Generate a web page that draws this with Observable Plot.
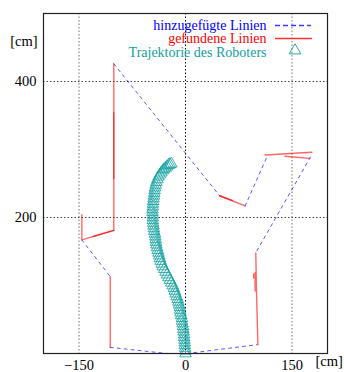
<!DOCTYPE html>
<html><head><meta charset="utf-8">
<script src="https://cdn.jsdelivr.net/npm/d3@7"></script>
<script src="https://cdn.jsdelivr.net/npm/@observablehq/plot@0.6"></script>
<style>
body{margin:0;background:#fff;}
#wrap{position:relative;width:344px;height:372px;font-family:"Liberation Serif","Times New Roman",serif;}
#legend{position:absolute;left:0;top:0;}
</style></head><body>
<div id="wrap"></div>
<script>
const xTicks = [-150, 0, 150];
const yTicks = [200, 400];
const legendLabels = ["hinzugefügte Linien", "gefundene Linien", "Trajektorie des Roboters"];

// found lines (red), each a polyline
const foundLines = [
  [[-101,426],[-101,181],[-146,167],[-146,204]],
  [[-101,354],[-101,257]],
  [[-101,181],[-130,172]],
  [[-106,113],[-106,9]],
  [[102,13],[100,90],[99,148]],
  [[98,119],[98,92]],
  [[96,117],[96,111]],
  [[48,232],[84,217]],
  [[48,232],[66,225]],
  [[112,292],[178,296]],
  [[140,290],[175,287]]
];
// added lines (blue dashed)
const addedLines = [
  [[-101,426],[48,232]],
  [[84,217],[115,290]],
  [[176,289],[100,150]],
  [[-146,167],[-106,113]],
  [[-106,9],[-26,0]],
  [[2,0],[101,13]]
];
// robot trajectory
const trajY = [0,4,8,12,16,20,24,28,32,36,40,44,48,52,56,60,64,68,72,76,80,84,88,92,96,100,104,108,112,116,120,124,128,132,136,140,144,148,152,156,160,164,168,172,176,180,184,188,192,196,200,204,208,212,216,220,224,228,232,236,240,244,248,252,256,260,263,266,269,271,273,275,277,278,279];
const trajX = [0,0,-0.5,-1,-1,-1.5,-2,-2,-2.5,-3,-3.5,-4,-5,-5,-6,-7,-7.5,-8,-9,-10,-11,-12.5,-14,-15,-16.5,-18,-20,-22,-24,-26,-28,-30,-32,-33.5,-35,-36,-37,-38,-39,-40,-41,-41.5,-42,-42.5,-43,-44,-44.5,-45,-45.5,-46,-46,-46,-46.5,-46.5,-46,-46,-45.5,-45,-44.5,-44,-43.5,-43,-42,-41,-39.5,-38,-36,-34,-32,-30,-28,-26,-24,-22,-20];

const toRows = lines => lines.flatMap((pts, i) => pts.map(([x, y]) => ({id: i, x, y})));
const foundRows = toRows(foundLines);
const addedRows = toRows(addedLines);
const traj = trajY.map((y, i) => ({x: trajX[i], y}));

const teal = "#10a0a0";
const fmt = d => d < 0 ? "\u2212" + (-d) : String(d);

const chart = Plot.plot({
  width: 344, height: 372,
  marginLeft: 43, marginRight: 17, marginTop: 13, marginBottom: 19,
  style: {fontFamily: "Liberation Serif, Times New Roman, serif", fontSize: "14.5px", background: "white", color: "black"},
  x: {type: "linear", domain: [-200, 200]},
  y: {type: "linear", domain: [0, 500]},
  marks: [
    Plot.ruleX(xTicks, {stroke: d => d === 0 ? "#000" : "#777", strokeDasharray: "1.5,2", strokeWidth: 1}),
    Plot.ruleY(yTicks, {stroke: "#444", strokeDasharray: "1.5,2", strokeWidth: 1}),
    Plot.axisX(xTicks, {anchor: "bottom", tickSize: 0, tickPadding: 6, tickFormat: fmt, label: null, fontSize: 14.5}),
    Plot.axisY(yTicks, {anchor: "left", tickSize: 0, tickPadding: 7, label: null, fontSize: 14.5}),
    Plot.line(addedRows, {x: "x", y: "y", z: "id", stroke: "#0000ff", strokeOpacity: 0.65, strokeWidth: 1, strokeDasharray: "3,4"}),
    Plot.line(foundRows, {x: "x", y: "y", z: "id", stroke: "#ff0000", strokeOpacity: 0.6, strokeWidth: 1.4}),
    Plot.dot(traj, {x: "x", y: "y", symbol: "triangle", r: 4.3, stroke: teal, strokeWidth: 0.8, fill: "none"}),
    Plot.frame({stroke: "#222", strokeWidth: 1.2}),
    Plot.text(["[cm]"], {frameAnchor: "top-left", dx: -6, dy: 22, textAnchor: "end", fontSize: 14.5}),
    Plot.text(["[cm]"], {frameAnchor: "bottom-right", dx: -12, dy: 12, textAnchor: "start", fontSize: 14.5})
  ]
});
const wrap = document.getElementById("wrap");
wrap.appendChild(chart);

// legend overlay
const ns = "http://www.w3.org/2000/svg";
const lg = document.createElementNS(ns, "svg");
lg.setAttribute("id", "legend");
lg.setAttribute("width", 344); lg.setAttribute("height", 70);
const colors = ["#0000ff", "#ff0000", teal];
const baselines = [29.5, 43, 57];
legendLabels.forEach((t, i) => {
  const tx = document.createElementNS(ns, "text");
  tx.setAttribute("x", 266.5); tx.setAttribute("y", baselines[i]);
  tx.setAttribute("text-anchor", "end");
  tx.setAttribute("fill", colors[i]);
  tx.setAttribute("font-size", "14px");
  tx.setAttribute("font-family", "Liberation Serif, Times New Roman, serif");
  tx.textContent = t;
  lg.appendChild(tx);
});
const l1 = document.createElementNS(ns, "path");
l1.setAttribute("d", "M275,25.5H311");
l1.setAttribute("style", "stroke:#3a3aff;stroke-width:1.3;stroke-dasharray:5,3;fill:none");
lg.appendChild(l1);
const l2 = document.createElementNS(ns, "path");
l2.setAttribute("d", "M275,38.5H312");
l2.setAttribute("style", "stroke:#ff3030;stroke-width:1.3;fill:none");
lg.appendChild(l2);
const tri = document.createElementNS(ns, "path");
tri.setAttribute("d", d3.symbol(d3.symbolTriangle, 60)());
tri.setAttribute("transform", "translate(295,50.5)");
tri.setAttribute("style", "fill:none;stroke:" + teal + ";stroke-width:0.9");
lg.appendChild(tri);
wrap.appendChild(lg);
</script>
</body></html>
